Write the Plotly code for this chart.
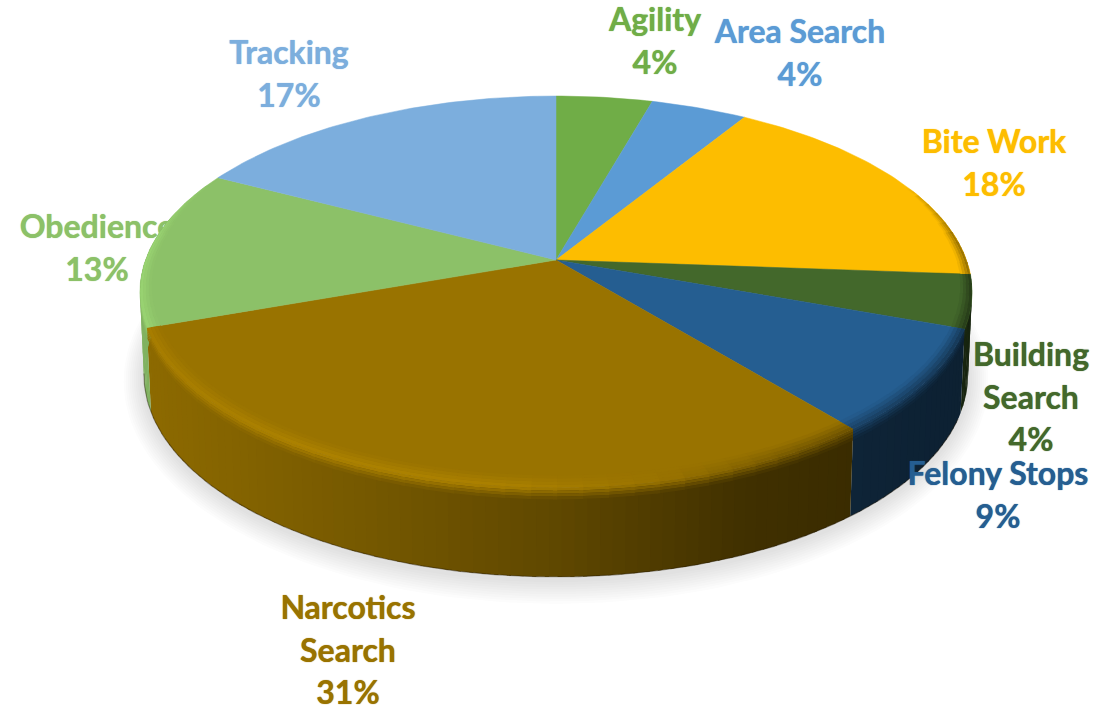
import numpy as np
import plotly.graph_objects as go

# ---- data ----
categories = ["Agility", "Area Search", "Bite Work", "Building Search",
              "Felony Stops", "Narcotics Search", "Obedience", "Tracking"]
values = [4.4, 4.4, 17.5, 4.4, 8.6, 30.6, 13.2, 17.4]
colors = ["#70AD47", "#5B9BD5", "#FDBD00", "#43682B",
          "#255E91", "#997300", "#8CC168", "#7CAEDD"]
label_lines = [["Agility"], ["Area Search"], ["Bite Work"], ["Building", "Search"],
               ["Felony Stops"], ["Narcotics", "Search"], ["Obedience"], ["Tracking"]]

# ---- layout of the drawing (pixel-like axis units) ----
label_anchor = [(655, 23), (800, 35), (994, 145), (1031, 358),
                (998, 477), (348, 611), (97, 230), (289, 56)]
LINE_H = 42.5
FONT = 32
K = 0.163
CX = 556


def top(theta, r=1.0):
    u, v = r * np.sin(theta), -r * np.cos(theta)
    w = 1 - K * v
    return CX + 410.5 * u / w, 260 + 190.7 * v / w


def bottom(theta, grow=0.0, dy=0.0):
    u, v = np.sin(theta), -np.cos(theta)
    w = 1 - K * v
    return CX + (406.5 + grow) * u / w, 342 + dy + (196.6 + grow) * v / w


def rgb(c):
    return np.array([int(c[i:i + 2], 16) for i in (1, 3, 5)], float)


def css(a):
    a = np.clip(a, 0, 255).round().astype(int)
    return f"rgb({a[0]},{a[1]},{a[2]})"


def wall_shade(x):
    return np.interp(x, [145, 250, 556, 740, 850, 980], [.92, .85, .62, .42, .38, .34])


def poly(fig, x, y, color, stroke=0):
    fig.add_trace(go.Scatter(x=np.r_[x, x[0]], y=np.r_[y, y[0]], mode="lines", fill="toself",
                             fillcolor=color, line=dict(color=color, width=stroke),
                             hoverinfo="skip", showlegend=False))


def add_labels(fig, idx):
    for i in idx:
        ax, ay = label_anchor[i]
        lines = label_lines[i] + [f"{round(values[i])}%"]
        fig.add_trace(go.Scatter(
            x=[ax] * len(lines), y=[ay + n * LINE_H for n in range(len(lines))],
            text=lines, mode="text", textposition="middle center",
            textfont=dict(family="Lato", size=FONT, color=colors[i], weight="bold",
                          shadow=f"0 0 1px {colors[i]}"),
            hoverinfo="skip", showlegend=False))


fig = go.Figure()

# soft shadow under the pie
ring = np.linspace(0, 2 * np.pi, 240)
for g in range(20, 0, -2):
    x, y = bottom(ring, grow=g, dy=3)
    fig.add_trace(go.Scatter(x=x, y=y, mode="lines", fill="toself",
                             fillcolor="rgba(60,60,60,0.017)", line=dict(width=0),
                             hoverinfo="skip", showlegend=False))

# Obedience label sits behind the pie
add_labels(fig, [6])

edges = np.r_[0, np.cumsum(values)] / np.sum(values) * 2 * np.pi
OVER = np.radians(0.5)

# side wall
for i, c in enumerate(colors):
    base = rgb(c)
    a, b = max(edges[i], np.pi * .42), min(edges[i + 1], np.pi * 1.58)
    if b <= a:
        continue
    ts = np.linspace(a, b, max(2, int((b - a) / np.radians(1.5)) + 1))
    for j, (t0, t1) in enumerate(zip(ts[:-1], ts[1:])):
        tt = np.linspace(t0 - (OVER if j else 0), t1, 3)
        xa, ya = top(tt)
        xb, yb = bottom(tt)
        poly(fig, np.r_[xa, xb[::-1]], np.r_[ya, yb[::-1]],
             css(base * wall_shade(top((t0 + t1) / 2)[0])))

# dark lower edge of the wall
tt = np.linspace(np.pi * .62, np.pi * 1.45, 160)
xb, yb = bottom(tt)
fig.add_trace(go.Scatter(x=xb, y=yb, mode="lines", line=dict(color="rgba(30,20,0,0.4)", width=1.2),
                         hoverinfo="skip", showlegend=False))

# top surface
for i, c in enumerate(colors):
    ts = np.linspace(edges[i], edges[i + 1], int((edges[i + 1] - edges[i]) / np.radians(1)) + 2)
    x, y = top(ts)
    poly(fig, np.r_[CX, x], np.r_[260, y], c, stroke=0.5)


def rim_point(tt, s, r_in, f_max):
    """s in 0..0.5 runs over the disc up to its rim, s in 0.5..1 runs down the wall."""
    if s <= .5:
        return top(tt, r_in + (1 - r_in) * (s / .5))
    xa, ya = top(tt)
    xb, yb = bottom(tt)
    f = f_max * ((s - .5) / .5)
    return xa + (xb - xa) * f, ya + (yb - ya) * f


# bevel along the front rim
stops = np.linspace(0, 1, 9)
for i, c in enumerate(colors):
    base = rgb(c)
    a, b = max(edges[i], np.pi * .30), min(edges[i + 1], np.pi * 1.70)
    if b <= a:
        continue
    ts = np.linspace(a, b, max(2, int((b - a) / np.radians(3)) + 1))
    for j, (t0, t1) in enumerate(zip(ts[:-1], ts[1:])):
        tm = (t0 + t1) / 2
        vm = -np.cos(tm)
        fade = np.clip((vm + 0.55) / 0.45, 0, 1)
        r_in = 1 - (0.024 + 0.022 * max(vm, 0)) * fade
        f_max = 0.13 * np.clip(vm / 0.3, 0, 1)
        xm = top(tm)[0]
        H = np.interp(xm, [145, 300, 500, 660, 800, 980], [.10, .14, .13, 0, -.25, -.45]) * fade
        wc = base * wall_shade(xm)
        hi = base * (1 + H)
        for s in range(8):
            m = (stops[s] + stops[s + 1]) / 2
            if m < .5:
                col = base + (hi - base) * (m / .5)
            elif f_max > 0:
                col = hi + (wc - hi) * ((m - .5) / .5)
            else:
                continue
            tt = np.linspace(t0 - (OVER if j else 0), t1, 3)
            xa, ya = rim_point(tt, stops[s], r_in, f_max)
            xb, yb = rim_point(tt, stops[s + 1], r_in, f_max)
            poly(fig, np.r_[xa, xb[::-1]], np.r_[ya, yb[::-1]], css(col))

# remaining labels on top
add_labels(fig, [0, 1, 2, 3, 4, 5, 7])

fig.update_layout(
    width=1119, height=708, margin=dict(l=0, r=0, t=0, b=0),
    paper_bgcolor="white", plot_bgcolor="white", showlegend=False,
    xaxis=dict(range=[0, 1119], visible=False, fixedrange=True),
    yaxis=dict(range=[708, 0], visible=False, fixedrange=True),
)
fig.write_html("out.html", config={"displayModeBar": False},
               post_script="document.body.style.margin='0';")
